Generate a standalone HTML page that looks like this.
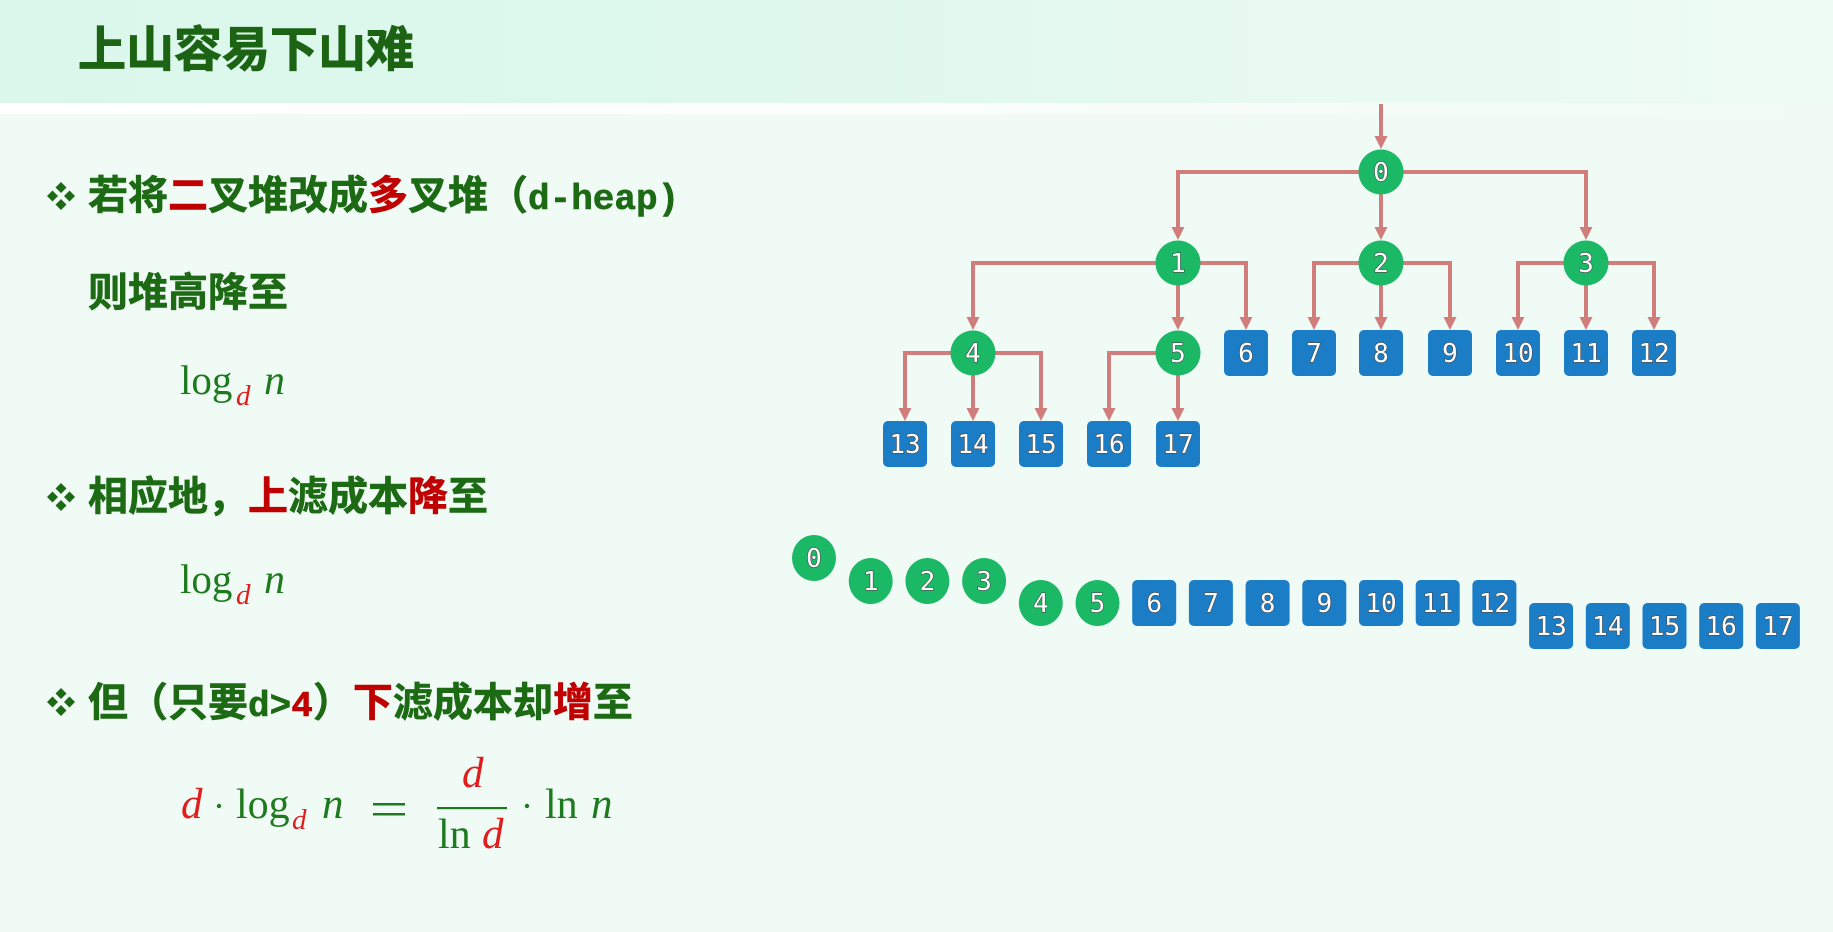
<!DOCTYPE html>
<html><head><meta charset="utf-8">
<style>
html,body{margin:0;padding:0;}
body{width:1833px;height:932px;overflow:hidden;position:relative;background:#f1fbf6;font-family:"Liberation Sans","Noto Sans CJK SC",sans-serif;}
.hdr{position:absolute;left:0;top:0;width:1833px;height:103px;background:linear-gradient(to right,#dbf7eb 0%,#ddf8ec 35%,#e6f9f0 65%,#eefbf4 100%);}
.strip{position:absolute;left:0;top:103px;width:1833px;height:11px;background:linear-gradient(to right,#ffffff 0%,#fcfefd 45%,#f5fcf8 75%,#f1fbf6 100%);}
.title{position:absolute;left:78px;top:27px;font-size:48px;line-height:48px;font-weight:bold;color:#1c6414;white-space:nowrap;font-family:"Liberation Sans","Noto Sans CJK SC",sans-serif;-webkit-text-stroke:1px #1c6414;}
.t{position:absolute;left:88px;font-size:40px;line-height:40px;font-weight:bold;color:#1c6a14;white-space:nowrap;font-family:"Liberation Sans","Noto Sans CJK SC",sans-serif;-webkit-text-stroke:0.6px currentColor;}
.r{color:#c00000;}
.m{font-family:"Liberation Mono",monospace;font-size:36px;font-weight:bold;}
svg{position:absolute;left:0;top:0;}
.lbl{font-family:"DejaVu Sans Mono","Liberation Mono",monospace;font-size:26px;fill:#ffffff;stroke:#4a4a4a;stroke-width:1.2px;paint-order:stroke;text-anchor:middle;}
.g{fill:#1bb865;}
.b{fill:#1b7dc6;}
.ln{fill:none;stroke:#d07d7b;stroke-width:4;}
.ah{fill:#d07d7b;}
.fm{font-family:"Liberation Serif",serif;fill:#1e7a1e;}
.fr{font-family:"Liberation Serif",serif;fill:#e01e1e;font-style:italic;}
.fi{font-style:italic;}
</style></head>
<body>
<div class="hdr"></div>
<div class="strip"></div>
<div class="title">上山容易下山难</div>

<div class="t" style="top:176px">若将<span class="r">二</span>叉堆改成<span class="r">多</span>叉堆（<span class="m">d-heap)</span></div>
<div class="t" style="top:273px">则堆高降至</div>
<div class="t" style="top:477px">相应地，<span class="r">上</span>滤成本<span class="r">降</span>至</div>
<div class="t" style="top:683px">但（只要<span class="m">d&gt;<span class="r">4</span></span>）<span class="r">下</span>滤成本却<span class="r">增</span>至</div>

<svg width="1833" height="932" viewBox="0 0 1833 932" xmlns="http://www.w3.org/2000/svg">
  <!-- bullet diamonds -->
  <g fill="#1c6a14">
    <g transform="translate(61,196)">
      <polygon points="0,-14 5.5,-8.5 0,-3 -5.5,-8.5"/>
      <polygon points="0,3 5.5,8.5 0,14 -5.5,8.5"/>
      <polygon points="-14,0 -8.5,-5.5 -3,0 -8.5,5.5"/>
      <polygon points="3,0 8.5,-5.5 14,0 8.5,5.5"/>
    </g>
    <g transform="translate(61,497)">
      <polygon points="0,-14 5.5,-8.5 0,-3 -5.5,-8.5"/>
      <polygon points="0,3 5.5,8.5 0,14 -5.5,8.5"/>
      <polygon points="-14,0 -8.5,-5.5 -3,0 -8.5,5.5"/>
      <polygon points="3,0 8.5,-5.5 14,0 8.5,5.5"/>
    </g>
    <g transform="translate(61,702)">
      <polygon points="0,-14 5.5,-8.5 0,-3 -5.5,-8.5"/>
      <polygon points="0,3 5.5,8.5 0,14 -5.5,8.5"/>
      <polygon points="-14,0 -8.5,-5.5 -3,0 -8.5,5.5"/>
      <polygon points="3,0 8.5,-5.5 14,0 8.5,5.5"/>
    </g>
  </g>

  <!-- formula 1 -->
  <text class="fm" x="180" y="394" font-size="41">log</text>
  <text class="fr" x="236" y="405" font-size="29">d</text>
  <text class="fm fi" x="264" y="394" font-size="42">n</text>
  <!-- formula 2 -->
  <text class="fm" x="180" y="593" font-size="41">log</text>
  <text class="fr" x="236" y="604" font-size="29">d</text>
  <text class="fm fi" x="264" y="593" font-size="42">n</text>
  <!-- formula 3 -->
  <text class="fr" x="181" y="818" font-size="43">d</text>
  <circle cx="219" cy="806" r="2.2" fill="#1e7a1e"/>
  <text class="fm" x="236" y="818" font-size="42">log</text>
  <text class="fr" x="292" y="829" font-size="29">d</text>
  <text class="fm fi" x="322" y="818" font-size="43">n</text>
  <rect x="373" y="803" width="32" height="2.5" fill="#1e7a1e"/>
  <rect x="373" y="813" width="32" height="2.5" fill="#1e7a1e"/>
  <text class="fr" x="462" y="787" font-size="43">d</text>
  <rect x="437" y="807" width="70" height="2.2" fill="#1e7a1e"/>
  <text class="fm" x="438" y="848" font-size="42">ln</text>
  <text class="fr" x="482" y="848" font-size="43">d</text>
  <circle cx="527" cy="806" r="2.2" fill="#1e7a1e"/>
  <text class="fm" x="545" y="818" font-size="42">ln</text>
  <text class="fm fi" x="591" y="818" font-size="43">n</text>

  <!-- tree edges -->
  <path class="ln" d="M1381,104 V137"/>
  <polygon class="ah" points="1374.5,136 1387.5,136 1381,149"/>

  <path class="ln" d="M1178,228 V172 H1586 V228 M1381,172 V228"/>
  <polygon class="ah" points="1171.5,227 1184.5,227 1178,240"/>
  <polygon class="ah" points="1374.5,227 1387.5,227 1381,240"/>
  <polygon class="ah" points="1579.5,227 1592.5,227 1586,240"/>

  <path class="ln" d="M973,318 V263 H1246 V318 M1178,263 V318"/>
  <polygon class="ah" points="966.5,317 979.5,317 973,330"/>
  <polygon class="ah" points="1171.5,317 1184.5,317 1178,330"/>
  <polygon class="ah" points="1239.5,317 1252.5,317 1246,330"/>

  <path class="ln" d="M1314,318 V263 H1450 V318 M1381,263 V318"/>
  <polygon class="ah" points="1307.5,317 1320.5,317 1314,330"/>
  <polygon class="ah" points="1374.5,317 1387.5,317 1381,330"/>
  <polygon class="ah" points="1443.5,317 1456.5,317 1450,330"/>

  <path class="ln" d="M1518,318 V263 H1654 V318 M1586,263 V318"/>
  <polygon class="ah" points="1511.5,317 1524.5,317 1518,330"/>
  <polygon class="ah" points="1579.5,317 1592.5,317 1586,330"/>
  <polygon class="ah" points="1647.5,317 1660.5,317 1654,330"/>

  <path class="ln" d="M905,409 V353 H1041 V409 M973,353 V409"/>
  <polygon class="ah" points="898.5,408 911.5,408 905,421"/>
  <polygon class="ah" points="966.5,408 979.5,408 973,421"/>
  <polygon class="ah" points="1034.5,408 1047.5,408 1041,421"/>

  <path class="ln" d="M1109,409 V353 H1178 M1178,353 V409"/>
  <polygon class="ah" points="1102.5,408 1115.5,408 1109,421"/>
  <polygon class="ah" points="1171.5,408 1184.5,408 1178,421"/>

  <!-- tree nodes -->
  <ellipse class="g" cx="1381" cy="172" rx="22.5" ry="22.5"/><text class="lbl" x="1381" y="181">0</text>
  <ellipse class="g" cx="1178" cy="263" rx="22.5" ry="22.5"/><text class="lbl" x="1178" y="272">1</text>
  <ellipse class="g" cx="1381" cy="263" rx="22.5" ry="22.5"/><text class="lbl" x="1381" y="272">2</text>
  <ellipse class="g" cx="1586" cy="263" rx="22.5" ry="22.5"/><text class="lbl" x="1586" y="272">3</text>
  <ellipse class="g" cx="973" cy="353" rx="22.5" ry="22.5"/><text class="lbl" x="973" y="362">4</text>
  <ellipse class="g" cx="1178" cy="353" rx="22.5" ry="22.5"/><text class="lbl" x="1178" y="362">5</text>

  <rect class="b" x="1224" y="330" width="44" height="46" rx="5"/><text class="lbl" x="1246" y="362">6</text>
  <rect class="b" x="1292" y="330" width="44" height="46" rx="5"/><text class="lbl" x="1314" y="362">7</text>
  <rect class="b" x="1359" y="330" width="44" height="46" rx="5"/><text class="lbl" x="1381" y="362">8</text>
  <rect class="b" x="1428" y="330" width="44" height="46" rx="5"/><text class="lbl" x="1450" y="362">9</text>
  <rect class="b" x="1496" y="330" width="44" height="46" rx="5"/><text class="lbl" x="1518" y="362">10</text>
  <rect class="b" x="1564" y="330" width="44" height="46" rx="5"/><text class="lbl" x="1586" y="362">11</text>
  <rect class="b" x="1632" y="330" width="44" height="46" rx="5"/><text class="lbl" x="1654" y="362">12</text>

  <rect class="b" x="883" y="421" width="44" height="46" rx="5"/><text class="lbl" x="905" y="453">13</text>
  <rect class="b" x="951" y="421" width="44" height="46" rx="5"/><text class="lbl" x="973" y="453">14</text>
  <rect class="b" x="1019" y="421" width="44" height="46" rx="5"/><text class="lbl" x="1041" y="453">15</text>
  <rect class="b" x="1087" y="421" width="44" height="46" rx="5"/><text class="lbl" x="1109" y="453">16</text>
  <rect class="b" x="1156" y="421" width="44" height="46" rx="5"/><text class="lbl" x="1178" y="453">17</text>

  <!-- array row -->
  <ellipse class="g" cx="814" cy="558" rx="22" ry="23"/><text class="lbl" x="814" y="567">0</text>
  <ellipse class="g" cx="870.7" cy="581" rx="22" ry="23"/><text class="lbl" x="870.7" y="590">1</text>
  <ellipse class="g" cx="927.4" cy="581" rx="22" ry="23"/><text class="lbl" x="927.4" y="590">2</text>
  <ellipse class="g" cx="984.1" cy="581" rx="22" ry="23"/><text class="lbl" x="984.1" y="590">3</text>
  <ellipse class="g" cx="1040.8" cy="603" rx="22" ry="23"/><text class="lbl" x="1040.8" y="612">4</text>
  <ellipse class="g" cx="1097.5" cy="603" rx="22" ry="23"/><text class="lbl" x="1097.5" y="612">5</text>

  <rect class="b" x="1132.2" y="580" width="44" height="46" rx="5"/><text class="lbl" x="1154.2" y="612">6</text>
  <rect class="b" x="1188.9" y="580" width="44" height="46" rx="5"/><text class="lbl" x="1210.9" y="612">7</text>
  <rect class="b" x="1245.6" y="580" width="44" height="46" rx="5"/><text class="lbl" x="1267.6" y="612">8</text>
  <rect class="b" x="1302.3" y="580" width="44" height="46" rx="5"/><text class="lbl" x="1324.3" y="612">9</text>
  <rect class="b" x="1359" y="580" width="44" height="46" rx="5"/><text class="lbl" x="1381" y="612">10</text>
  <rect class="b" x="1415.7" y="580" width="44" height="46" rx="5"/><text class="lbl" x="1437.7" y="612">11</text>
  <rect class="b" x="1472.4" y="580" width="44" height="46" rx="5"/><text class="lbl" x="1494.4" y="612">12</text>

  <rect class="b" x="1529.1" y="603" width="44" height="46" rx="5"/><text class="lbl" x="1551.1" y="635">13</text>
  <rect class="b" x="1585.8" y="603" width="44" height="46" rx="5"/><text class="lbl" x="1607.8" y="635">14</text>
  <rect class="b" x="1642.5" y="603" width="44" height="46" rx="5"/><text class="lbl" x="1664.5" y="635">15</text>
  <rect class="b" x="1699.2" y="603" width="44" height="46" rx="5"/><text class="lbl" x="1721.2" y="635">16</text>
  <rect class="b" x="1755.9" y="603" width="44" height="46" rx="5"/><text class="lbl" x="1777.9" y="635">17</text>
</svg>
</body></html>
